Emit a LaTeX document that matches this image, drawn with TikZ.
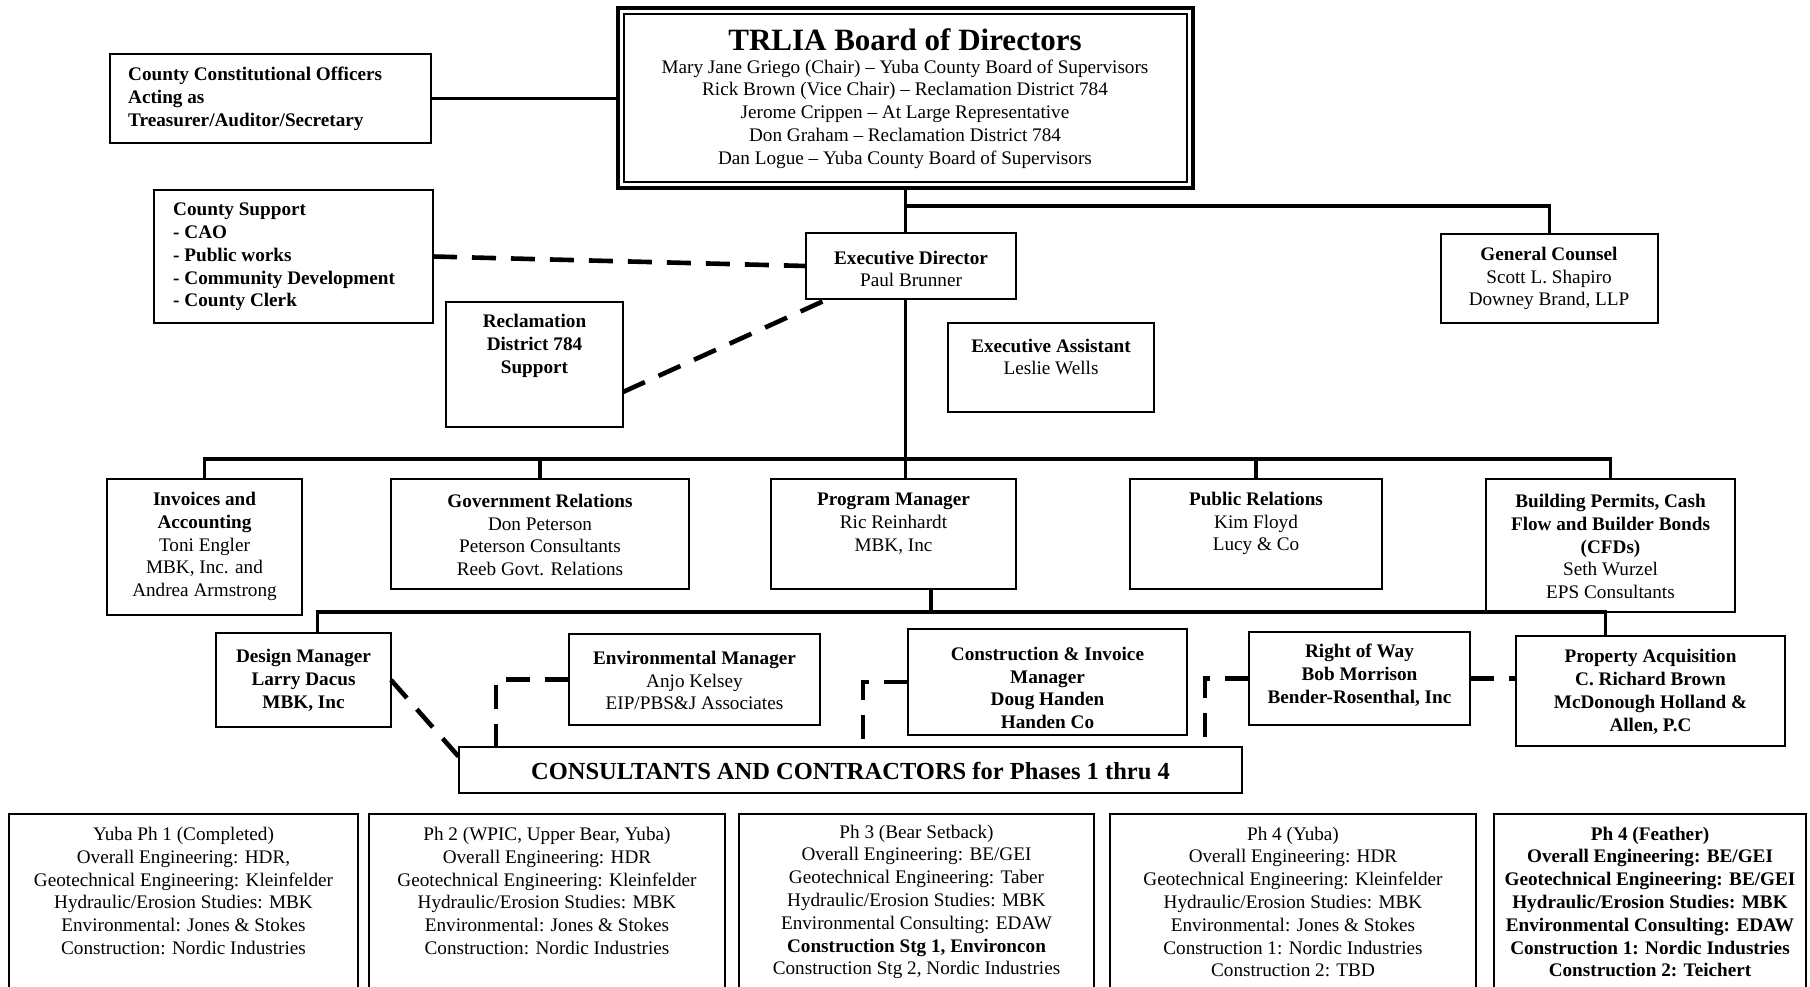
\documentclass[tikz,border=0pt]{standalone}
\usepackage{fontspec}
\setmainfont{Liberation Serif}
\usetikzlibrary{calc}
\tikzset{
 bx/.style={draw, line width=2.2pt, fill=white, inner sep=0pt, outer sep=0pt, anchor=north west},
 tx/.style={inner sep=0pt, align=center, font=\fontsize{19.2}{22.8}\selectfont},
 txb/.style={tx, font=\fontsize{19.2}{22.8}\selectfont\bfseries},
 ln/.style={line width=3.6pt},
 dl/.style={line width=4.6pt, dash pattern=on 24pt off 15pt},
}
\newcommand\mybox[5]{\node[bx, minimum width=#4pt, minimum height=#5pt] (#1) at (#2,#3) {};}
\begin{document}
\begin{tikzpicture}[x=1pt,y=-1pt]
\useasboundingbox (0,0) rectangle (1810,987);
\clip (0,0) rectangle (1810,987);
% boxes
\mybox{co}{110}{54}{321}{89}
\node[bx, line width=3.2pt, minimum width=575pt, minimum height=180pt] (board) at (618,8) {};
\draw[line width=1.2pt] ($(board.north west)+(6,6)$) rectangle ($(board.south east)+(-6,-6)$);
\mybox{cs}{154}{190}{279}{133}
\mybox{ed}{806}{233}{210}{66}
\mybox{gc}{1441}{234}{217}{89}
\mybox{recl}{446}{302}{177}{125}
\mybox{ea}{948}{323}{206}{89}
\mybox{inv}{107}{479}{195}{136}
\mybox{gov}{391}{479}{298}{110}
\mybox{pm}{771}{479}{245}{110}
\mybox{pr}{1130}{479}{252}{110}
\mybox{bp}{1486}{479}{249}{133}
\mybox{dm}{216}{633}{175}{94}
\mybox{em}{569}{634}{251}{91}
\mybox{cim}{908}{629}{279}{106}
\mybox{row}{1249}{632}{221}{93}
\mybox{pa}{1516}{636}{269}{110}
\mybox{cons}{459}{747}{783}{46}
\mybox{pha}{9}{814}{349}{200}
\mybox{phb}{369}{814}{356}{200}
\mybox{phc}{739}{814}{355}{200}
\mybox{phd}{1110}{814}{366}{200}
\mybox{phe}{1494}{814}{312}{200}
% texts
\node[txb, anchor=west, align=left] (co-t) at (128,99) {County Constitutional Officers\\Acting as\\Treasurer/Auditor/Secretary};
\node[tx, font=\fontsize{31}{34}\selectfont\bfseries] (board-title) at (905,40) {TRLIA Board of Directors};
\node[tx] (board-m) at (905,114) {Mary Jane Griego (Chair) -- Yuba County Board of Supervisors\\Rick Brown (Vice Chair) -- Reclamation District 784\\Jerome Crippen -- At Large Representative\\Don Graham -- Reclamation District 784\\Dan Logue -- Yuba County Board of Supervisors};
\node[txb, anchor=west, align=left] (cs-t) at (173,257) {County Support\\- CAO\\- Public works\\- Community Development\\- County Clerk};
\node[tx] (ed-t) at (911,269) {\textbf{Executive Director}\\Paul Brunner};
\node[tx] (gc-t) at (1549,278.5) {\textbf{General Counsel}\\Scott L. Shapiro\\Downey Brand, LLP};
\node[txb] (recl-t) at (534.5,346) {Reclamation\\District 784\\Support};
\node[tx] (ea-t) at (1051,357) {\textbf{Executive Assistant}\\Leslie Wells};
\node[tx] (inv-t) at (204.5,546.5) {\textbf{Invoices and}\\\textbf{Accounting}\\Toni Engler\\MBK, Inc. and\\Andrea Armstrong};
\node[tx] (gov-t) at (540,535) {\textbf{Government Relations}\\Don Peterson\\Peterson Consultants\\Reeb Govt. Relations};
\node[tx] (pm-t) at (893.5,523.5) {\textbf{Program Manager}\\Ric Reinhardt\\MBK, Inc};
\node[tx] (pr-t) at (1256,523.5) {\textbf{Public Relations}\\Kim Floyd\\Lucy \& Co};
\node[tx] (bp-t) at (1610.5,546.5) {\textbf{Building Permits, Cash}\\\textbf{Flow and Builder Bonds}\\\textbf{(CFDs)}\\Seth Wurzel\\EPS Consultants};
\node[txb] (dm-t) at (303.5,680.5) {Design Manager\\Larry Dacus\\MBK, Inc};
\node[tx] (em-t) at (694.5,680.5) {\textbf{Environmental Manager}\\Anjo Kelsey\\EIP/PBS\&J Associates};
\node[txb] (cim-t) at (1047.5,688) {Construction \& Invoice\\Manager\\Doug Handen\\Handen Co};
\node[txb] (row-t) at (1359.5,675.5) {Right of Way\\Bob Morrison\\Bender-Rosenthal, Inc};
\node[txb] (pa-t) at (1650.5,692) {Property Acquisition\\C. Richard Brown\\McDonough Holland \&\\Allen, P.C};
\node[tx, font=\fontsize{24.5}{28}\selectfont\bfseries] (cons-t) at (850.5,771) {CONSULTANTS AND CONTRACTORS for Phases 1 thru 4};
\node[tx] (pha-t) at (183.5,891) {Yuba Ph 1 (Completed)\\Overall Engineering: HDR,\\Geotechnical Engineering: Kleinfelder\\Hydraulic/Erosion Studies: MBK\\Environmental: Jones \& Stokes\\Construction: Nordic Industries};
\node[tx] (phb-t) at (547,891) {Ph 2 (WPIC, Upper Bear, Yuba)\\Overall Engineering: HDR\\Geotechnical Engineering: Kleinfelder\\Hydraulic/Erosion Studies: MBK\\Environmental: Jones \& Stokes\\Construction: Nordic Industries};
\node[tx] (phc-t) at (916.5,902) {Ph 3 (Bear Setback)\\Overall Engineering: BE/GEI\\Geotechnical Engineering: Taber\\Hydraulic/Erosion Studies: MBK\\Environmental Consulting: EDAW\\\textbf{Construction Stg 1, Environcon}\\Construction Stg 2, Nordic Industries};
\node[tx] (phd-t) at (1293,902) {Ph 4 (Yuba)\\Overall Engineering: HDR\\Geotechnical Engineering: Kleinfelder\\Hydraulic/Erosion Studies: MBK\\Environmental: Jones \& Stokes\\Construction 1: Nordic Industries\\Construction 2: TBD};
\node[txb] (phe-t) at (1650,902) {Ph 4 (Feather)\\Overall Engineering: BE/GEI\\Geotechnical Engineering: BE/GEI\\Hydraulic/Erosion Studies: MBK\\Environmental Consulting: EDAW\\Construction 1: Nordic Industries\\Construction 2: Teichert};
% connectors
\coordinate (b0) at ($(board.south)+(0,18)$);
\coordinate (b1) at (905.5,459);
\coordinate (b2) at (931,612);
\draw[ln] (co.east) -- (co.east -| board.west);
\draw[ln] (board.south) -- (board.south |- ed.north);
\draw[ln] (b0) -| (gc.north);
\draw[ln] (board.south |- ed.south) -- (b1);
\draw[ln] ($(ed.south west)+(172,0)$) -- ($(ed.south west)+(172,0)$ |- ea.north);
\draw[ln] (inv.north) |- (b1) -| (bp.north);
\draw[ln] (gov.north) -- (gov.north |- b1);
\draw[ln] (b1) -- (b1 |- pm.north);
\draw[ln] (pr.north) -- (pr.north |- b1);
\draw[ln] (b2 |- pm.south) -- (b2);
\draw[ln] ($(dm.north)+(14,0)$) |- (b2) -| ($(pa.north)+(-45,0)$);
\draw[ln] ($(em.north)+(8,0)$) -- ($(em.north)+(8,0)$ |- b2);
\draw[ln] ($(cim.north)+(-6,0)$) -- ($(cim.north)+(-6,0)$ |- b2);
\draw[ln] ($(row.north)+(6,0)$) -- ($(row.north)+(6,0)$ |- b2);
\draw[dl] (cs.east) -- (ed.west);
\draw[dl] ($(recl.south east)+(0,-35)$) -- ($(ed.south west)+(22,0)$);
\draw[dl] (dm.east) -- ($(cons.north west)+(0,10)$);
\draw[dl] (em.west) -| ($(cons.north west)+(37,0)$);
\draw[dl] (cim.west) -| ($(cons.north west)+(404,0)$);
\draw[dl] (row.west) -| ($(cons.north west)+(746,0)$);
\draw[dl] (row.east) -- (row.east -| pa.west);
\end{tikzpicture}
\end{document}
